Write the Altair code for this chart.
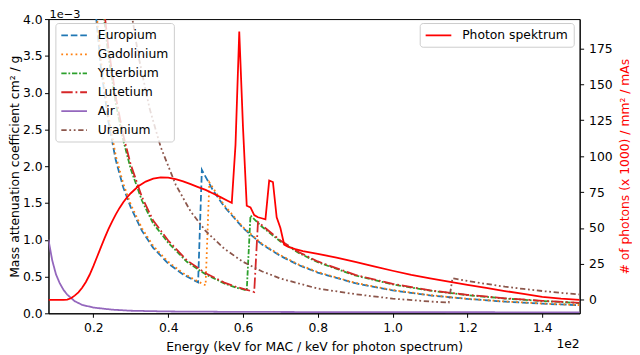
import altair as alt
import pandas as pd

# ---------------- data (energies in keV, MAC in 1e-3 cm^2/g) ----------------
materials = ["Europium", "Gadolinium", "Ytterbium", "Lutetium", "Air", "Uranium"]

eu_energy = [20, 22, 24, 26, 28, 30, 33, 36, 40, 44, 48, 49, 52, 55, 60, 65, 70, 75, 80, 90, 100, 110, 120, 130, 140, 150]
eu_mac = [4.42, 3.35, 2.61, 2.08, 1.71, 1.44, 1.12, 0.89, 0.677, 0.528, 0.42, 1.95, 1.67, 1.45, 1.16, 0.94, 0.78, 0.653,
          0.553, 0.409, 0.312, 0.244, 0.195, 0.159, 0.131, 0.110]

gd_energy = [20, 22, 24, 26, 28, 30, 33, 36, 40, 44, 48, 50, 51, 55, 60, 65, 70, 75, 80, 90, 100, 110, 120, 130, 140, 150]
gd_mac = [4.55, 3.45, 2.69, 2.14, 1.76, 1.48, 1.155, 0.915, 0.70, 0.545, 0.432, 0.38, 1.78, 1.47, 1.17, 0.95, 0.79, 0.66,
          0.56, 0.414, 0.316, 0.247, 0.197, 0.161, 0.133, 0.112]

yb_energy = [22, 24, 26, 28, 30, 33, 36, 40, 45, 50, 55, 58, 61, 62, 65, 70, 75, 80, 90, 100, 110, 120, 130, 140, 150]
yb_mac = [4.39, 3.51, 2.85, 2.35, 1.96, 1.53, 1.22, 0.96, 0.70, 0.53, 0.406, 0.353, 0.31, 1.33, 1.18, 0.976, 0.818, 0.694,
          0.514, 0.393, 0.308, 0.247, 0.201, 0.167, 0.140]

lu_energy = [22, 24, 26, 28, 30, 33, 36, 40, 45, 50, 55, 58, 61, 63, 64, 65, 70, 75, 80, 90, 100, 110, 120, 130, 140, 150]
lu_mac = [4.52, 3.62, 2.94, 2.42, 2.02, 1.58, 1.26, 0.99, 0.72, 0.545, 0.418, 0.364, 0.32, 0.29, 1.24, 1.20, 0.99, 0.83,
          0.705, 0.522, 0.40, 0.313, 0.251, 0.204, 0.17, 0.142]

air_energy = [8, 9, 10, 11, 12, 13, 14, 15, 17, 20, 25, 30, 40, 60, 80, 100, 150]
air_mac = [1.0, 0.72, 0.53, 0.41, 0.32, 0.255, 0.21, 0.165, 0.115, 0.078, 0.05, 0.035, 0.025, 0.019, 0.017, 0.015, 0.0136]

u_energy = [29, 30, 32, 35, 38, 42, 46, 50, 55, 60, 65, 70, 80, 90, 100, 110, 115, 116, 120, 125, 130, 135, 140, 145, 150]
u_mac = [4.6, 4.14, 3.51, 2.79, 2.26, 1.75, 1.385, 1.12, 0.877, 0.70, 0.572, 0.473, 0.336, 0.26, 0.20, 0.16, 0.145, 0.478,
         0.44, 0.40, 0.362, 0.331, 0.303, 0.278, 0.256]

ph_energy = [8, 10, 12, 13, 14, 15, 16, 17, 18, 19, 20, 21, 22, 23, 24, 25, 26, 27, 28, 29, 30, 32, 34, 36, 38, 40, 42,
             44, 46, 48, 50, 52, 54, 56, 57, 58, 59, 60, 61, 62, 63, 64, 65, 66, 67, 68, 69, 70, 71, 72, 74, 76, 80, 85,
             90, 95, 100, 105, 110, 115, 120, 125, 130, 135, 140, 145, 150]
ph_count = [0, 0, 0, 0.2, 1.2, 3, 5.3, 8.5, 12.5, 17.5, 23.5, 30, 36.5, 43, 49, 54.5, 59.5, 64, 68, 71.3, 74.2, 79,
            82.3, 84.3, 85.2, 85, 84, 82.5, 80.5, 78.5, 76.5, 74, 71.5, 68.8, 67.5, 108, 186.6, 120, 65.5, 64.3, 59,
            57.5, 56.8, 56, 83, 82, 57.5, 50, 38.5, 37, 35.3, 34, 32, 29.5, 26.5, 23.3, 20.3, 17.4, 15, 12.7, 10.5,
            8.4, 6.2, 4.2, 2.2, 0.9, 0]

x_ticks = [0.2, 0.4, 0.6, 0.8, 1.0, 1.2, 1.4]
left_ticks = [0.0, 0.5, 1.0, 1.5, 2.0, 2.5, 3.0, 3.5, 4.0]
right_ticks = [0, 25, 50, 75, 100, 125, 150, 175]
offset_labels = ["1e−3", "1e2"]

# ---------------- tables ----------------
series = [("Europium", eu_energy, eu_mac), ("Gadolinium", gd_energy, gd_mac), ("Ytterbium", yb_energy, yb_mac),
          ("Lutetium", lu_energy, lu_mac), ("Air", air_energy, air_mac), ("Uranium", u_energy, u_mac)]
rows = []
for name, es, vs in series:
    for i, (e, v) in enumerate(zip(es, vs)):
        rows.append({"energy": e / 100.0, "mac": v, "material": name, "idx": i})
mac_df = pd.DataFrame(rows)

ph_df = pd.DataFrame({"energy": [e / 100.0 for e in ph_energy], "photons": ph_count,
                      "series": ["Photon spektrum"] * len(ph_energy)})

colors = ["#1f77b4", "#ff7f0e", "#2ca02c", "#d62728", "#9467bd", "#8c564b"]
dashes = [[6.7, 2.9], [1.8, 3.0], [5.4, 1.8, 1.8, 1.8], [11.5, 2.9, 1.8, 2.9], [1, 0], [5.4, 2.7, 1.8, 2.7, 1.8, 2.7]]

FONT = "DejaVu Sans"
FS = 12.5
W, H = 538, 298

x_enc = alt.X("energy:Q",
              scale=alt.Scale(domain=[0.08, 1.5], nice=False, zero=False),
              axis=alt.Axis(values=x_ticks, format=".1f", title="Energy (keV for MAC / keV for photon spectrum)",
                            tickSize=4, labelPadding=4, titlePadding=7))

legend_common = dict(orient="none", title=None, padding=5, fillColor="rgba(255,255,255,0.8)",
                     strokeColor="#cccccc", cornerRadius=3, symbolType="M-1,0L3,0", symbolSize=169,
                     symbolStrokeWidth=1.8, labelFontSize=FS, labelFont=FONT, labelColor="black",
                     labelOffset=23, rowPadding=5.2)

mat_layer = alt.Chart(mac_df).mark_line(strokeWidth=1.8, clip=True).encode(
    x=x_enc,
    y=alt.Y("mac:Q", scale=alt.Scale(domain=[0, 4], nice=False),
            axis=alt.Axis(orient="left", values=left_ticks, format=".1f",
                          title="Mass attenuation coefficient cm² / g", tickSize=4, labelPadding=2.5,
                          titleAngle=270, titleX=-30.5, titleY=H / 2, titleAlign="center",
                          titleBaseline="alphabetic")),
    color=alt.Color("material:N", sort=materials,
                    scale=alt.Scale(domain=materials, range=colors),
                    legend=alt.Legend(legendX=7, legendY=4, **legend_common)),
    strokeDash=alt.StrokeDash("material:N", sort=materials,
                              scale=alt.Scale(domain=materials, range=dashes),
                              legend=alt.Legend(legendX=7, legendY=4, **legend_common)),
    order=alt.Order("idx:Q"),
)

ph_layer = alt.Chart(ph_df).mark_line(strokeWidth=1.8, clip=True).encode(
    x=x_enc,
    y=alt.Y("photons:Q", scale=alt.Scale(domain=[-9.3, 195.3], nice=False, zero=False),
            axis=alt.Axis(orient="right", values=right_ticks, title="# of photons (x 1000) / mm² / mAs",
                          titleColor="red", titleAngle=270, titleX=49, titleY=H / 2, titleAlign="center",
                          titleBaseline="alphabetic", tickSize=4, labelPadding=5)),
    color=alt.Color("series:N", scale=alt.Scale(domain=["Photon spektrum"], range=["#ff0000"]),
                    legend=alt.Legend(legendX=376, legendY=4, **legend_common)),
)

exp_df = pd.DataFrame({"label": offset_labels, "pos": ["top", "bottom"]})
exp_top = alt.Chart(exp_df).transform_filter(alt.datum.pos == "top").mark_text(
    align="left", baseline="alphabetic", font=FONT, fontSize=11.5, color="black").encode(
    x=alt.value(1), y=alt.value(-1), text="label:N")
exp_bottom = alt.Chart(exp_df).transform_filter(alt.datum.pos == "bottom").mark_text(
    align="right", baseline="alphabetic", font=FONT, fontSize=FS, color="black").encode(
    x=alt.value(W), y=alt.value(333), text="label:N")

chart = alt.layer(mat_layer, ph_layer, exp_top, exp_bottom).resolve_scale(
    y="independent", color="independent", strokeDash="independent"
).properties(
    width=W, height=H,
    autosize=alt.AutoSizeParams(type="none"),
    padding={"left": 41, "top": 9, "right": 53, "bottom": 40},
).configure_axis(
    grid=False, domainColor="black", tickColor="black", labelColor="black", titleColor="black",
    labelFont=FONT, titleFont=FONT, labelFontSize=FS, titleFontSize=FS, titleFontWeight="normal",
    domainWidth=1, tickWidth=1,
).configure_view(
    stroke="black", strokeWidth=1
)

chart.save("out.html", embed_options={"renderer": "svg", "actions": False})
